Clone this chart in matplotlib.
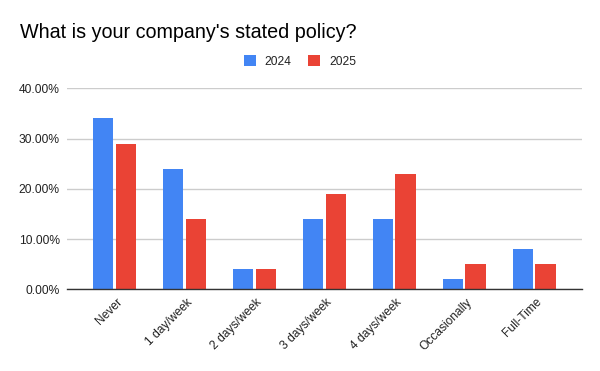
import matplotlib
matplotlib.use("Agg")
import matplotlib.pyplot as plt
import matplotlib.transforms as mtransforms
import numpy as np
from matplotlib.ticker import FuncFormatter, MultipleLocator

categories = ["Never", "1 day/week", "2 days/week", "3 days/week", "4 days/week", "Occasionally", "Full-Time"]
series_names = ["2024", "2025"]
values_2024 = [0.34, 0.24, 0.04, 0.14, 0.14, 0.02, 0.08]
values_2025 = [0.29, 0.14, 0.04, 0.19, 0.23, 0.05, 0.05]
colors = ["#4285F4", "#EA4335"]

plt.rcParams['font.family'] = ['Liberation Sans', 'DejaVu Sans']

fig = plt.figure(figsize=(6, 3.71), dpi=100)
ax = fig.add_axes([0.1112, 0.2202, 0.8583, 0.5418])

x = np.arange(len(categories))
w = 0.291
off = 0.164
ax.bar(x - off, values_2024, width=w, color=colors[0], label=series_names[0], zorder=3)
ax.bar(x + off, values_2025, width=w, color=colors[1], label=series_names[1], zorder=3)

ax.set_xlim(-0.679, len(categories) - 1 + 0.679)
ax.set_ylim(0, 0.40)
ax.yaxis.set_major_locator(MultipleLocator(0.10))
ax.yaxis.set_major_formatter(FuncFormatter(lambda v, p: f"{v*100:.2f}%"))
ax.grid(axis='y', color='#cccccc', linewidth=1, zorder=0)
for s in ['top', 'right', 'left']:
    ax.spines[s].set_visible(False)
ax.spines['bottom'].set_color('#333333')
ax.spines['bottom'].set_linewidth(1.0)
ax.spines['bottom'].set_zorder(4)
ax.tick_params(axis='y', length=0, labelsize=8.64, labelcolor='#222222', pad=5)
ax.tick_params(axis='x', length=0, labelsize=8.64, labelcolor='#222222', pad=8)
ax.set_xticks(x)
ax.set_xticklabels(categories, rotation=45, ha='right', va='center', rotation_mode='anchor')
shift = mtransforms.ScaledTranslation(0.06, 0, fig.dpi_scale_trans)
for lbl in ax.get_xticklabels():
    lbl.set_transform(lbl.get_transform() + shift)

fig.text(20/600, 1 - 38/371, "What is your company's stated policy?", fontsize=14.2, color='#000000', va='baseline')

leg = fig.legend(loc='center', bbox_to_anchor=(0.5, 0.834), ncol=2, frameon=False,
                 fontsize=8.64, handlelength=1.0, handleheight=1.0, handletextpad=0.75,
                 columnspacing=1.4, borderpad=0, borderaxespad=0)
for t in leg.get_texts():
    t.set_color('#222222')

fig.savefig("out.png", dpi=100, facecolor='white')
